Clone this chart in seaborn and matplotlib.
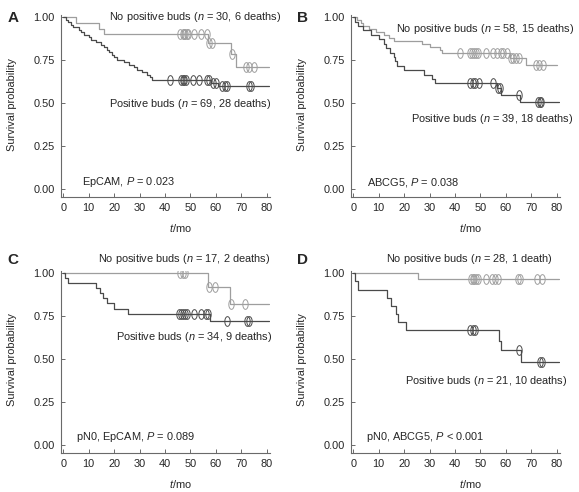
# Kaplan-Meier curves, four panels, redrawn from read-off step values

import numpy as np
import pandas as pd
import matplotlib
matplotlib.use("Agg")
import matplotlib.pyplot as plt
from matplotlib.path import Path
import seaborn as sns


# --- A: EpCAM ---
a_neg_t = [5, 14, 16, 57, 66, 68]
a_neg_s = [0.967, 0.933, 0.900, 0.850, 0.785, 0.712]
a_neg_c = [46, 47, 47.5, 48, 48.5, 49, 51.5, 54, 56.5, 57.5, 58.3, 66.3, 72, 73, 75]
a_pos_t = [1, 2, 3, 4, 6, 7, 8, 10, 11, 13, 15, 16, 17, 18, 19, 20, 21, 24, 26,
           28, 29, 31, 33, 34, 35, 58, 61]
a_pos_s = [0.986, 0.971, 0.957, 0.942, 0.928, 0.913, 0.899, 0.884, 0.870, 0.855,
           0.841, 0.826, 0.812, 0.797, 0.783, 0.768, 0.754, 0.739, 0.725, 0.710,
           0.696, 0.681, 0.667, 0.652, 0.638, 0.620, 0.600]
a_pos_c = [42, 46.2, 46.9, 47.5, 48.2, 51.2, 53.5, 56.4, 57.2, 59, 60, 62.5, 63.5,
           64.5, 73.2, 74]

# --- B: ABCG5 ---
b_neg_t = [1.5, 3, 4, 6, 9, 12, 14, 16, 27, 30, 34, 35, 61.5, 68]
b_neg_s = [0.983, 0.966, 0.948, 0.931, 0.914, 0.897, 0.879, 0.862, 0.845, 0.828,
           0.810, 0.793, 0.765, 0.720]
b_neg_c = [42, 46, 46.8, 47.5, 48.2, 49, 52, 55, 56.5, 58, 59, 60.5, 62, 63, 64,
           65, 72, 73, 74.5]
b_pos_t = [0.7, 2, 4, 7, 10, 12, 13, 14.4, 16, 16.5, 17.3, 20, 28, 31, 32, 56.5,
           58, 65.5]
b_pos_s = [0.974, 0.949, 0.923, 0.897, 0.872, 0.846, 0.821, 0.795, 0.769, 0.744,
           0.718, 0.692, 0.667, 0.641, 0.615, 0.588, 0.550, 0.505]
b_pos_c = [46, 47, 48, 49.5, 55, 56.8, 57.8, 65, 72.5, 73.3, 74]

# --- C: pN0, EpCAM ---
c_neg_t = [57, 65.5]
c_neg_s = [0.920, 0.820]
c_neg_c = [46, 47, 48, 57.3, 59.5, 65.8, 71.5]
c_pos_t = [0.5, 1.7, 13, 14.4, 15.7, 17, 20, 25.3, 57.7]
c_pos_s = [0.971, 0.941, 0.912, 0.882, 0.853, 0.824, 0.794, 0.765, 0.723]
c_pos_c = [45.5, 46.2, 47, 47.8, 48.6, 51.5, 54, 56, 57, 64.3, 72.3, 73.2]

# --- D: pN0, ABCG5 ---
d_neg_t = [25.3]
d_neg_s = [0.964]
d_neg_c = [46.3, 47, 47.6, 48.2, 48.9, 52.2, 54.4, 55.7, 57, 64.9, 65.6, 72.1, 74.1]
d_pos_t = [0.7, 1.7, 13.4, 15, 16.8, 17.7, 20.6, 57.2, 58.1, 65.8]
d_pos_s = [0.952, 0.905, 0.857, 0.810, 0.762, 0.714, 0.667, 0.606, 0.551, 0.482]
d_pos_c = [46, 47, 48, 65, 73.4, 74.1]

x_ticks = [0, 10, 20, 30, 40, 50, 60, 70, 80]
y_ticks = [0, 0.25, 0.5, 0.75, 1.0]

LIGHT = "#9e9e9e"
DARK = "#4a4a4a"
AXC = "#6a6a6a"
FS = 7.9

# open vertical ellipse used as censor mark
theta = np.linspace(0, 2 * np.pi, 41)
ELL = Path(np.c_[0.55 * np.cos(theta), np.sin(theta)], closed=True)


def step_df(times, surv, end):
    x = [0] + list(times) + [end]
    y = [1.0] + list(surv) + [surv[-1]]
    return pd.DataFrame({"t": x, "s": y})


def censor_df(times, surv, cens):
    s = np.r_[1.0, surv]
    idx = np.searchsorted(np.array(times), cens, side="right")
    return pd.DataFrame({"t": cens, "s": s[idx]})


def km(ax, times, surv, cens, end, color):
    sns.lineplot(data=step_df(times, surv, end), x="t", y="s", ax=ax, color=color,
                 drawstyle="steps-post", estimator=None, sort=False, linewidth=0.9)
    cd = censor_df(times, surv, cens)
    ax.plot(cd["t"], cd["s"], linestyle="none", marker=ELL, markersize=7,
            markerfacecolor="none", markeredgecolor=color, markeredgewidth=0.7)


def style_axes(ax):
    ax.set_xlim(-0.9, 81.3)
    ax.set_ylim(-0.045, 1.013)
    ax.set_xticks(x_ticks)
    ax.set_yticks(y_ticks)
    ax.set_yticklabels([f"{v:.2f}" for v in y_ticks])
    sns.despine(ax=ax)
    for sp in ["left", "bottom"]:
        ax.spines[sp].set_color(AXC)
        ax.spines[sp].set_linewidth(0.8)
    ax.tick_params(direction="in", length=3, width=0.7, color=AXC,
                   labelsize=FS, pad=4.5)
    ax.set_xlabel("$t$/mo", fontsize=FS)
    ax.set_ylabel("Survival probability", fontsize=FS)
    ax.xaxis.set_label_coords(0.57, -0.14)
    ax.yaxis.set_label_coords(-0.21, 0.51)


def main():
    sns.set_style("ticks")
    plt.rcParams["font.family"] = ["Liberation Sans", "DejaVu Sans"]
    plt.rcParams["mathtext.fontset"] = "custom"
    plt.rcParams["mathtext.it"] = "Liberation Sans:italic"
    plt.rcParams["mathtext.rm"] = "Liberation Sans"

    fig = plt.figure(figsize=(5.79, 4.92), dpi=100)
    W, H = 579, 492
    top_row = [(61, 197, 182), (351, 197, 182)]
    bot_row = [(61, 452.7, 181.7), (351, 452.7, 181.7)]

    panels = [
        ("A", top_row[0], (a_neg_t, a_neg_s, a_neg_c, 81), (a_pos_t, a_pos_s, a_pos_c, 81),
         [(18, 1.0, "No positive buds ($n$ = 30, 6 deaths)"),
          (18, 0.494, "Positive buds ($n$ = 69, 28 deaths)"),
          (7.2, 0.04, "EpCAM, $P$ = 0.023")]),
        ("B", top_row[1], (b_neg_t, b_neg_s, b_neg_c, 80), (b_pos_t, b_pos_s, b_pos_c, 81),
         [(16.8, 0.93, "No positive buds ($n$ = 58, 15 deaths)"),
          (22.7, 0.407, "Positive buds ($n$ = 39, 18 deaths)"),
          (5.3, 0.04, "ABCG5, $P$ = 0.038")]),
        ("C", bot_row[0], (c_neg_t, c_neg_s, c_neg_c, 81), (c_pos_t, c_pos_s, c_pos_c, 81),
         [(13.8, 1.083, "No positive buds ($n$ = 17, 2 deaths)"),
          (20.7, 0.627, "Positive buds ($n$ = 34, 9 deaths)"),
          (5.0, 0.048, "pN0, EpCAM, $P$ = 0.089")]),
        ("D", bot_row[1], (d_neg_t, d_neg_s, d_neg_c, 81), (d_pos_t, d_pos_s, d_pos_c, 81),
         [(12.9, 1.083, "No positive buds ($n$ = 28, 1 death)"),
          (20.4, 0.373, "Positive buds ($n$ = 21, 10 deaths)"),
          (5.0, 0.048, "pN0, ABCG5, $P$ < 0.001")]),
    ]

    for letter, (left, bottom, height), neg, pos, notes in panels:
        ax = fig.add_axes([left / W, 1 - bottom / H, 209 / W, height / H])
        km(ax, *neg, LIGHT)
        km(ax, *pos, DARK)
        style_axes(ax)
        for x, y, txt in notes:
            ax.text(x, y, txt, fontsize=FS, ha="left", va="center", clip_on=False)
        lx = 13 if left < 200 else 303
        ly = 18 if bottom < 300 else 260
        fig.text(lx / W, 1 - ly / H, letter, fontsize=11, fontweight="bold",
                 ha="center", va="center")

    fig.savefig("out.png", dpi=100)


if __name__ == "__main__":
    main()
